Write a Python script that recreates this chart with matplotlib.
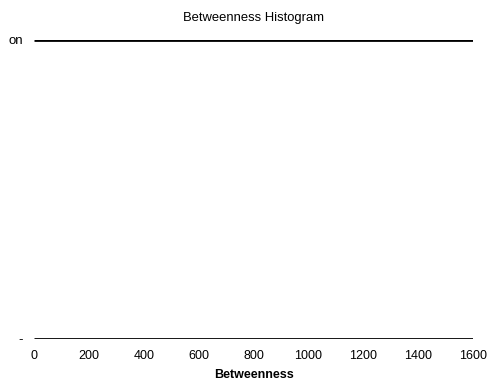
import matplotlib
matplotlib.use("Agg")
import matplotlib.pyplot as plt

# values
x_range = [0, 1600]
levels = [0, 1]
ytick_labels = ["-", "on"]
xticks = [0, 200, 400, 600, 800, 1000, 1200, 1400, 1600]

plt.rcParams['font.family'] = ['Liberation Sans', 'DejaVu Sans']

fig = plt.figure(figsize=(4.9, 3.81), dpi=100)
ax = fig.add_axes([34 / 490, 42 / 381, 439 / 490, 299 / 381])

for lv in levels:
    ax.hlines(lv, x_range[0], x_range[1], color="black", linewidth=2.0)

ax.set_xlim(x_range[0], x_range[1])
ax.set_ylim(levels[0], levels[1])
ax.set_xticks(xticks)
ax.set_xticklabels([str(t) for t in xticks], fontsize=9)
ax.set_yticks(levels)
ax.set_yticklabels(ytick_labels, fontsize=9.5)
ax.tick_params(axis="both", length=0)
ax.tick_params(axis="x", pad=8)
ax.tick_params(axis="y", pad=8)
for s in ax.spines.values():
    s.set_visible(False)

ax.set_title("Betweenness Histogram", fontsize=9.4, pad=14)
ax.set_xlabel("Betweenness", fontsize=9, fontweight="bold", labelpad=5)

fig.savefig("out.png", dpi=100, facecolor="white")
